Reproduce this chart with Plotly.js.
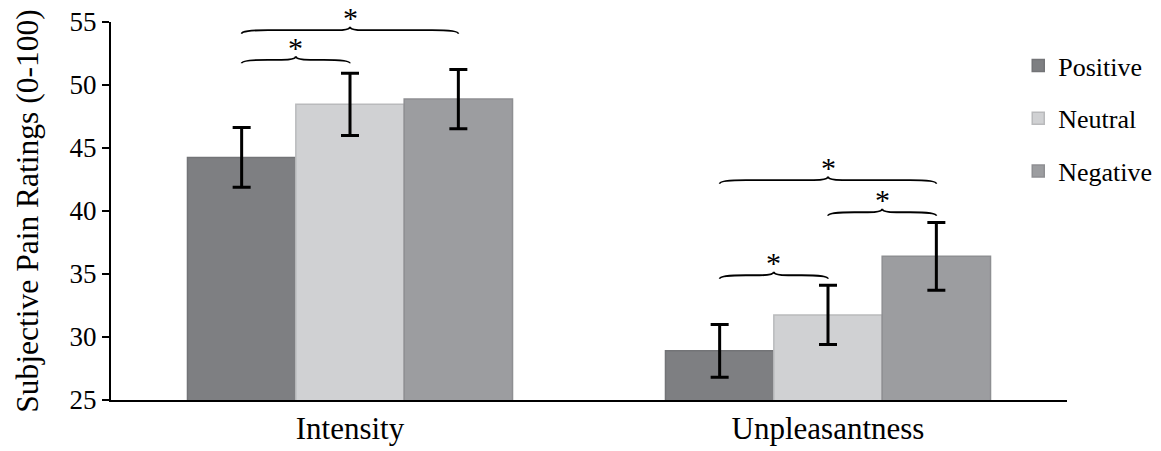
<!DOCTYPE html>
<html>
<head>
<meta charset="utf-8">
<script src="https://cdn.plot.ly/plotly-3.0.1.min.js"></script>
<style>html,body{margin:0;padding:0;background:#fff;}#chart{width:1161px;height:451px;}</style>
</head>
<body>
<div id="chart"></div>
<script>
// ---- data ----
const categories = ["Intensity", "Unpleasantness"];
const seriesNames = ["Positive", "Neutral", "Negative"];
const positiveValues = [44.25, 28.9];
const neutralValues = [48.47, 31.75];
const negativeValues = [48.88, 36.4];
const positiveErrors = [2.37, 2.1];
const neutralErrors = [2.47, 2.35];
const negativeErrors = [2.36, 2.68];
const yTickValues = [25, 30, 35, 40, 45, 50, 55];
// significance brackets: category index, from series, to series, level (rating units)
const braceCategory = [0, 0, 1, 1, 1];
const braceFrom = [0, 0, 0, 1, 0];
const braceTo = [1, 2, 1, 2, 2];
const braceLevel = [52.0, 54.35, 34.9, 39.9, 42.45];
const braceLabel = ["*", "*", "*", "*", "*"];

// ---- styling ----
const fillColors = ["#7e7f82", "#d0d1d3", "#9c9da0"];
const edgeColors = ["#737477", "#b9babc", "#8e8f92"];
const FONT = "'Liberation Serif', 'Times New Roman', 'DejaVu Serif', serif";
const bargap = 0.32;
const barW = (1 - bargap) / 3;

const values = [positiveValues, neutralValues, negativeValues];
const errors = [positiveErrors, neutralErrors, negativeErrors];
const xIdx = categories.map((_, i) => i);

const traces = seriesNames.map((name, s) => ({
  type: "bar",
  name: name,
  x: xIdx,
  y: values[s],
  legendgroup: name,
  marker: { color: fillColors[s], line: { color: edgeColors[s], width: 1.5 } },
  error_y: { type: "data", array: errors[s], visible: true, color: "#000", thickness: 3, width: 9 },
  hoverinfo: "x+y"
}));

function barCenter(cat, s) { return cat + (s - 1) * barW; }

const shapes = [];
const annotations = [];
const h = 0.28, qe = 0.055, qt = 0.03;
braceCategory.forEach((cat, i) => {
  const xa = barCenter(cat, braceFrom[i]);
  const xb = barCenter(cat, braceTo[i]);
  const y = braceLevel[i];
  const xm = (xa + xb) / 2;
  const path =
    `M${xa},${y - h} C${xa},${y - h * 0.3} ${xa + qe * 0.3},${y} ${xa + qe},${y} ` +
    `L${xm - qt},${y} C${xm - qt * 0.3},${y} ${xm},${y + h * 0.3} ${xm},${y + h} ` +
    `C${xm},${y + h * 0.3} ${xm + qt * 0.3},${y} ${xm + qt},${y} ` +
    `L${xb - qe},${y} C${xb - qe * 0.3},${y} ${xb},${y - h * 0.3} ${xb},${y - h}`;
  shapes.push({ type: "path", xref: "x", yref: "y", path: path, line: { color: "#000", width: 1.8 } });
  annotations.push({
    x: xm, y: y, xref: "x", yref: "y", text: braceLabel[i], showarrow: false,
    yanchor: "bottom", yshift: -6, font: { family: FONT, size: 30, color: "#000" }
  });
});

const layout = {
  width: 1161, height: 451,
  margin: { l: 111, r: 94, t: 22, b: 51, autoexpand: false },
  paper_bgcolor: "#fff", plot_bgcolor: "#fff",
  barmode: "group", bargap: bargap, bargroupgap: 0,
  font: { family: FONT, color: "#000" },
  showlegend: true,
  legend: {
    x: 0.949, y: 0.947, xanchor: "left", yanchor: "top",
    font: { family: FONT, size: 26, color: "#000" },
    traceorder: "grouped", tracegroupgap: 16, bgcolor: "rgba(0,0,0,0)"
  },
  xaxis: {
    range: [-0.5, 1.5], tickvals: xIdx, ticktext: categories, ticks: "",
    showline: true, linecolor: "#000", linewidth: 2, showgrid: false, zeroline: false,
    tickfont: { family: FONT, size: 31, color: "#000" }, fixedrange: true
  },
  yaxis: {
    range: [25, 55], tickvals: yTickValues, ticks: "outside", ticklen: 7, tickwidth: 2, tickcolor: "#000",
    showline: true, linecolor: "#000", linewidth: 2, showgrid: false, zeroline: false,
    tickfont: { family: FONT, size: 27, color: "#000" },
    title: { text: "Subjective Pain Ratings (0-100)", font: { family: FONT, size: 31.5, color: "#000" }, standoff: 22 },
    fixedrange: true
  },
  shapes: shapes,
  annotations: annotations
};

Plotly.newPlot("chart", traces, layout, { displayModeBar: false, staticPlot: true });
</script>
</body>
</html>
